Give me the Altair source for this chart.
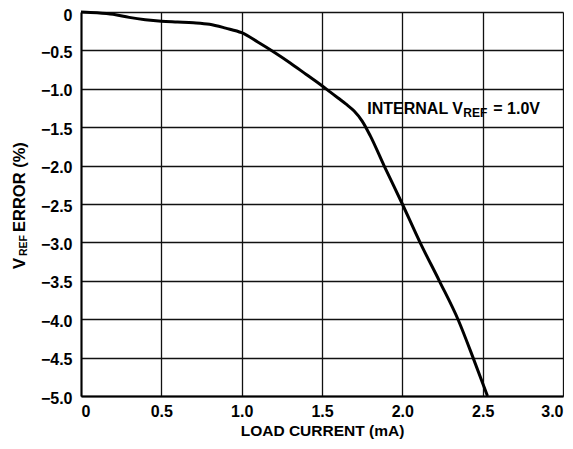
import altair as alt
import pandas as pd

# Load current (mA) vs VREF error (%)
load_current = [0, 0.1, 0.2, 0.3, 0.4, 0.5, 0.6, 0.7, 0.8, 0.9, 1.0, 1.1, 1.2, 1.3, 1.4,
                1.5, 1.55, 1.6, 1.65, 1.7, 1.75, 1.8, 1.886, 2.0, 2.11, 2.23, 2.35, 2.44, 2.53]
vref_error = [0, -0.01, -0.03, -0.07, -0.10, -0.12, -0.13, -0.14, -0.16, -0.21, -0.27, -0.39,
              -0.52, -0.66, -0.81, -0.96, -1.04, -1.12, -1.2, -1.29, -1.42, -1.61, -2.0,
              -2.5, -3.0, -3.5, -4.02, -4.5, -5.0]

x_ticks = [0, 0.5, 1.0, 1.5, 2.0, 2.5, 3.0]
y_ticks = [0, -0.5, -1.0, -1.5, -2.0, -2.5, -3.0, -3.5, -4.0, -4.5, -5.0]

df = pd.DataFrame({"x": load_current, "y": vref_error})

FONT = "Liberation Sans"
FS = 16

x_enc = alt.X("x:Q", scale=alt.Scale(domain=[0, 3]),
              axis=alt.Axis(values=x_ticks, title="LOAD CURRENT (mA)",
                            labelExpr="datum.value == 0 ? '0' : format(datum.value, '.1f')",
                            grid=True, gridColor="#111", gridWidth=1.3, ticks=False,
                            domainColor="#000", domainWidth=2, labelPadding=7,
                            labelFont=FONT, labelFontSize=FS, labelFontWeight="bold", labelColor="#000",
                            titleFont=FONT, titleFontSize=15.5, titleFontWeight="bold", titleColor="#000",
                            titlePadding=4))
y_enc = alt.Y("y:Q", scale=alt.Scale(domain=[-5, 0]),
              axis=alt.Axis(values=y_ticks, title=None,
                            labelExpr="datum.value == 0 ? '0' : replace(format(datum.value, '.1f'), '-', '\u2013')",
                            grid=True, gridColor="#111", gridWidth=1.3, ticks=False,
                            domainColor="#000", domainWidth=2, labelPadding=9,
                            labelOffset={"condition": {"test": "datum.value == 0", "value": 3.5}, "value": 2},
                            labelFont=FONT, labelFontSize=FS, labelFontWeight="bold", labelColor="#000"))

line = alt.Chart(df).mark_line(color="#000", strokeWidth=3, interpolate="monotone").encode(
    x=x_enc, y=y_enc)

ann = pd.DataFrame({"x": [1.782], "y": [-1.33]})
t_style = dict(font=FONT, fontWeight="bold", color="#000", align="left", baseline="alphabetic")
a1 = alt.Chart(ann).mark_text(text="INTERNAL V", fontSize=16, **t_style).encode(x=x_enc, y=y_enc)
a2 = alt.Chart(ann).mark_text(text="REF", fontSize=12, dx=96, dy=3, **t_style).encode(x=x_enc, y=y_enc)
a3 = alt.Chart(ann).mark_text(text="= 1.0V", fontSize=16, dx=126, **t_style).encode(x=x_enc, y=y_enc)

# rotated y-axis title with subscript
r_style = dict(font=FONT, fontWeight="bold", color="#000", align="left", baseline="alphabetic", angle=270)
t1 = alt.Chart(ann).mark_text(text="V", fontSize=16.5, **r_style).encode(x=alt.value(-56), y=alt.value(257))
t2 = alt.Chart(ann).mark_text(text="REF", fontSize=10.5, **r_style).encode(x=alt.value(-54.5), y=alt.value(244))
t3 = alt.Chart(ann).mark_text(text="ERROR (%)", fontSize=16.5, **r_style).encode(x=alt.value(-56), y=alt.value(220))

chart = alt.layer(line, a1, a2, a3, t1, t2, t3).properties(
    width=482, height=384, autosize="none",
    padding={"left": 73, "top": 4, "right": 1, "bottom": 45},
).configure_view(stroke="#000", strokeWidth=1.5).configure(background="white")

chart.save("out.html", embed_options={"renderer": "svg", "actions": False})
